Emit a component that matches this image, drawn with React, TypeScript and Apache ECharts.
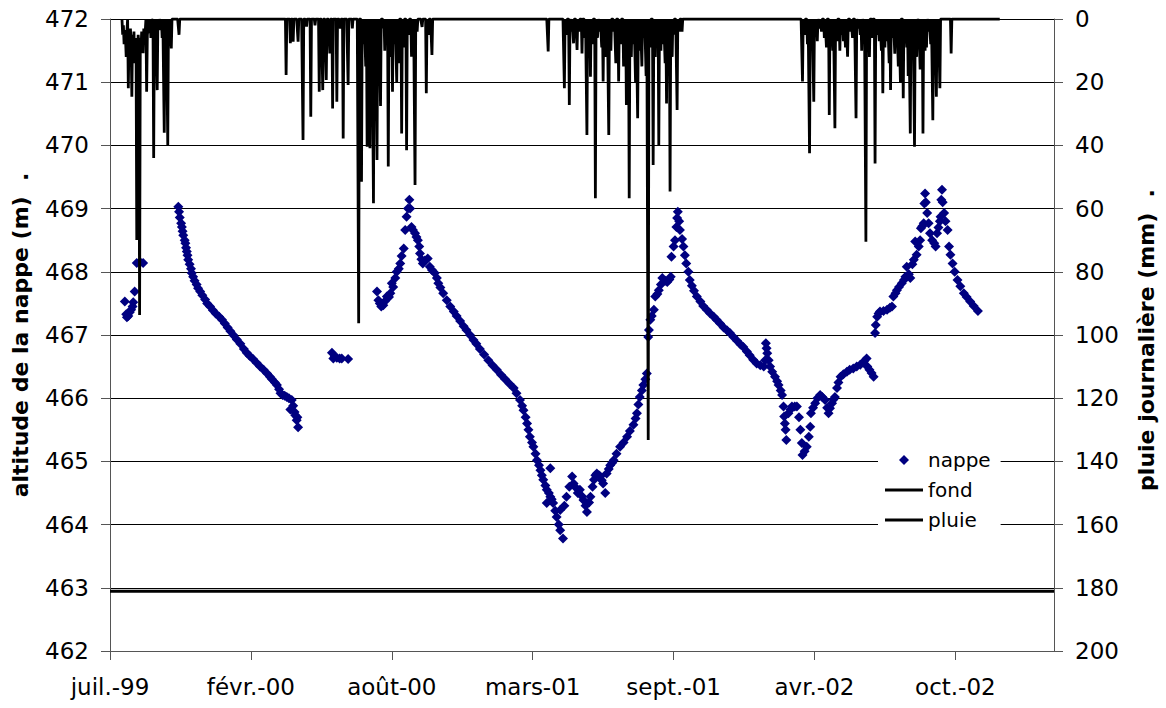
import React, { useEffect, useRef } from 'react';
import * as echarts from 'echarts';

// x values are days counted from 19 July 1999 (first axis tick)
const X_MAX = 1340;
const X_INTERVAL = 200;
const xTickLabels = ['juil.-99', 'févr.-00', 'août-00', 'mars-01', 'sept.-01', 'avr.-02', 'oct.-02'];
const xTickDays = [0, 200, 400, 600, 800, 1000, 1200];

const FOND_LEVEL = 462.945;

// nappe: [day, altitude (m)]
const nappe1999a: [number, number][] = [
  [21, 467.53], [23, 467.33], [24, 467.28], [26, 467.3], [28, 467.36], [30, 467.4], [32, 467.45],
  [33, 467.52], [35, 467.69], [38, 468.14], [43, 468.15], [47, 468.14],
];
const nappe1999b: [number, number][] = [
  [97, 469.03], [98, 468.95], [99, 468.86], [101, 468.77], [102, 468.71], [103, 468.64], [104, 468.58],
  [106, 468.5], [107, 468.45], [108, 468.38], [109, 468.32], [110, 468.26], [111, 468.19], [113, 468.12],
  [115, 468.05], [116, 467.98], [118, 467.92], [120, 467.86], [123, 467.8], [125, 467.74], [128, 467.69],
  [131, 467.63], [135, 467.56], [138, 467.5], [142, 467.45], [146, 467.39], [150, 467.34], [155, 467.29],
  [159, 467.24], [163, 467.18], [167, 467.12], [171, 467.06], [175, 467.0], [180, 466.93], [185, 466.86],
  [190, 466.78], [194, 466.72], [198, 466.67], [203, 466.62], [208, 466.56], [213, 466.5], [218, 466.45],
  [223, 466.39], [227, 466.34], [230, 466.3], [234, 466.25], [237, 466.21], [240, 466.14], [242, 466.08],
  [245, 466.05], [248, 466.04], [251, 466.02], [254, 466.0], [258, 465.97], [256, 465.82], [260, 465.88],
  [262, 465.78], [263, 465.73], [265, 465.65], [266, 465.7], [267, 465.54],
];
const nappe2000a: [number, number][] = [
  [315, 466.72], [317, 466.63], [319, 466.66], [322, 466.64], [326, 466.63], [329, 466.63], [338, 466.62],
];
const nappe2000b: [number, number][] = [
  [379, 467.69], [381, 467.55], [383, 467.5], [385, 467.45], [388, 467.47], [390, 467.53], [393, 467.61],
  [396, 467.6], [398, 467.66], [400, 467.82], [402, 467.76], [405, 467.9], [407, 468.0], [410, 468.05],
  [412, 468.13], [414, 468.25], [417, 468.37], [419, 468.66], [421, 468.87], [423, 469.0], [425, 469.14],
  [426, 469.0], [428, 468.71], [430, 468.66], [433, 468.61], [435, 468.55], [437, 468.5], [439, 468.4],
  [440, 468.29], [442, 468.2], [444, 468.13], [447, 468.18], [451, 468.21], [454, 468.08], [457, 468.03],
  [461, 467.98], [464, 467.9], [466, 467.82], [469, 467.75], [473, 467.66], [478, 467.55], [483, 467.45],
  [488, 467.37], [492, 467.3], [497, 467.22], [502, 467.14], [506, 467.08], [511, 467.0], [516, 466.92],
  [520, 466.86], [525, 466.78], [531, 466.69], [537, 466.6], [543, 466.52], [549, 466.45], [555, 466.37],
  [561, 466.3], [567, 466.23], [573, 466.16], [577, 466.08], [582, 465.97], [585, 465.88], [587, 465.81],
  [590, 465.7], [592, 465.6], [594, 465.5], [596, 465.39], [599, 465.3], [601, 465.23], [604, 465.12],
  [606, 465.02], [609, 464.94], [611, 464.86], [613, 464.78], [615, 464.71], [618, 464.62], [620, 464.55],
  [620, 464.34], [623, 464.5], [625, 464.44], [625, 464.89], [627, 464.4], [629, 464.34], [632, 464.22],
  [634, 464.12], [637, 464.0], [639, 463.91], [639, 464.23], [643, 463.78], [645, 464.3], [648, 464.44],
  [652, 464.6], [656, 464.76], [658, 464.65], [660, 464.6], [664, 464.5], [667, 464.55], [670, 464.45],
  [672, 464.39], [675, 464.3], [677, 464.2], [680, 464.35], [682, 464.44], [685, 464.6], [687, 464.71],
  [689, 464.78], [691, 464.81], [694, 464.78], [696, 464.76], [698, 464.7], [700, 464.65], [703, 464.5],
  [705, 464.81], [708, 464.88], [710, 464.94], [713, 464.98], [715, 465.02], [719, 465.12], [724, 465.23],
  [729, 465.3], [734, 465.39], [738, 465.48], [743, 465.58], [746, 465.68], [748, 465.76], [750, 465.9],
  [752, 466.02], [755, 466.12], [757, 466.21], [760, 466.3], [762, 466.39],
];
const nappe2001: [number, number][] = [
  [764, 466.97], [765, 467.08], [767, 467.24], [769, 467.3], [772, 467.4], [774, 467.61], [777, 467.65],
  [779, 467.71], [782, 467.8], [784, 467.9], [788, 467.86], [791, 467.84], [794, 467.88], [796, 467.92],
  [797, 468.24], [800, 468.4], [802, 468.5], [804, 468.71], [805, 468.85], [806, 468.95], [808, 468.8],
  [809, 468.66], [812, 468.52], [814, 468.4], [816, 468.26], [818, 468.13], [821, 468.0], [823, 467.87],
  [826, 467.78], [829, 467.7], [833, 467.61], [838, 467.53], [842, 467.46], [847, 467.4], [852, 467.34],
  [857, 467.29], [861, 467.24], [866, 467.18], [871, 467.12], [876, 467.07], [880, 467.03], [885, 466.97],
  [890, 466.91], [895, 466.85], [899, 466.81], [904, 466.74], [908, 466.68], [913, 466.61], [918, 466.55],
  [923, 466.52], [928, 466.5], [930, 466.6], [931, 466.87], [932, 466.79], [933, 466.71], [935, 466.6],
  [937, 466.5], [940, 466.42], [944, 466.34], [947, 466.27], [949, 466.21], [952, 466.12], [954, 466.05],
  [956, 465.87], [957, 465.71], [958, 465.6], [959, 465.5], [960, 465.34], [963, 465.76], [966, 465.82],
  [968, 465.87], [972, 465.87], [975, 465.87], [978, 465.7], [980, 465.5], [982, 465.29], [983, 465.1],
  [986, 465.16], [989, 465.23], [992, 465.39], [994, 465.55], [995, 465.76], [998, 465.85], [1001, 465.92],
  [1004, 466.0], [1008, 466.05], [1011, 466.02], [1015, 465.97], [1018, 465.85], [1020, 465.76],
  [1022, 465.84], [1025, 465.92], [1027, 465.98], [1029, 466.02], [1032, 466.16], [1034, 466.25],
  [1037, 466.34], [1041, 466.38], [1046, 466.42], [1050, 466.45], [1055, 466.47], [1060, 466.5],
  [1065, 466.53], [1070, 466.58], [1074, 466.63], [1075, 466.5], [1078, 466.45], [1081, 466.4],
  [1084, 466.34],
];
const nappe2002: [number, number][] = [
  [1086, 467.03], [1087, 467.16], [1089, 467.29], [1091, 467.34], [1093, 467.37], [1098, 467.38],
  [1103, 467.4], [1107, 467.43], [1110, 467.45], [1112, 467.61], [1115, 467.66], [1117, 467.71],
  [1120, 467.76], [1124, 467.82], [1127, 467.87], [1129, 467.92], [1131, 468.08], [1134, 467.96],
  [1136, 467.9], [1139, 468.12], [1141, 468.19], [1143, 468.48], [1145, 468.27], [1148, 468.4],
  [1150, 468.5], [1151, 468.69], [1153, 468.72], [1155, 468.77], [1156, 469.08], [1157, 469.24],
  [1158, 469.1], [1160, 468.93], [1162, 468.77], [1164, 468.61], [1167, 468.5], [1170, 468.45],
  [1172, 468.4], [1174, 468.61], [1176, 468.7], [1178, 468.8], [1179, 468.87], [1180, 469.14],
  [1181, 469.3], [1182, 469.1], [1184, 468.93], [1186, 468.8], [1189, 468.66], [1191, 468.4],
  [1193, 468.27], [1196, 468.13], [1199, 468.0], [1203, 467.87], [1207, 467.77], [1212, 467.66],
  [1216, 467.6], [1221, 467.53], [1226, 467.46], [1232, 467.38],
];

// pluie: daily record from day 17 to day 1263, rainy days as [day, mm]
const RAIN_FIRST_DAY = 17;
const RAIN_LAST_DAY = 1263;
const rain1999: [number, number][] = [
  [18, 5], [19, 2], [20, 8], [21, 3.5], [22, 6], [23, 12], [24, 4], [26, 21.9], [27, 6], [28, 10], [29, 3],
  [30, 8], [31, 24.6], [32, 5], [33, 9.8], [34, 4], [35, 14], [36, 6], [37, 9], [38, 69.9], [39, 12], [40, 5],
  [41, 8], [42, 93.7], [43, 6], [44, 9], [45, 4], [46, 7], [47, 10.8], [48, 3], [49, 6], [50, 4], [52, 23],
  [53, 5], [54, 3], [56, 4.5], [58, 6], [60, 2], [62, 44], [64, 5], [67, 22.5], [69, 3], [72, 3.5], [74, 6],
  [77, 36], [79, 4], [82, 39.9], [84, 3], [87, 9.3], [98, 5],
];
const rain2000: [number, number][] = [
  [250, 17.7], [256, 7.7], [260, 7.2], [267, 7.2], [274, 38.3], [279, 2.4], [285, 30.9], [291, 2], [297, 23],
  [302, 22.5], [307, 19.3], [312, 10.9], [316, 28.3], [322, 26.2], [327, 3], [331, 37.8], [338, 20.9],
  [344, 3], [353, 96.3], [357, 51.5], [360, 8], [363, 15], [365, 40.4], [367, 10], [369, 40.9], [371, 6],
  [374, 58.3], [376, 12], [379, 44.6], [381, 9], [384, 27.5], [388, 3], [390, 10], [393, 6], [395, 46.7],
  [397, 12], [399, 5], [401, 23], [404, 8], [407, 20], [410, 14], [414, 36.2], [417, 9], [421, 41.5],
  [424, 5], [428, 11.9], [430, 6], [433, 52.5], [436, 4], [443, 2.5], [449, 23.5], [452, 5], [457, 11.4],
];
const rain2001: [number, number][] = [
  [622, 10.3], [645, 21.9], [648, 5], [652, 27.2], [655, 4], [658, 7.7], [663, 9.8], [666, 4], [670, 10.9],
  [674, 6], [677, 36.7], [680, 5], [682, 18.3], [685, 8], [689, 56.7], [692, 6], [695, 4], [698, 9],
  [700, 19.8], [703, 12], [705, 7], [708, 36.7], [711, 10], [715, 4], [718, 14], [722, 19.8], [725, 8],
  [729, 15], [731, 6], [733, 27.2], [735, 9], [737, 56.7], [740, 12], [743, 8], [746, 20], [749, 31.4],
  [752, 10], [755, 15], [758, 6], [761, 18], [764, 133.2], [767, 9], [771, 46.2], [774, 12], [777, 7],
  [779, 39.9], [782, 10], [785, 8], [788, 14], [790, 26.7], [793, 6], [795, 54.6], [798, 12], [800, 5],
  [805, 28.8], [808, 4], [812, 4],
];
const rain2002: [number, number][] = [
  [983, 19.8], [986, 5], [990, 8], [993, 42.5], [996, 6], [999, 26.2], [1002, 5], [1004, 7], [1007, 3],
  [1010, 4], [1014, 6], [1017, 9], [1021, 30.4], [1023, 8], [1026, 10], [1029, 34.6], [1032, 7], [1036, 10],
  [1039, 5], [1041, 7], [1044, 9], [1047, 11.9], [1051, 4], [1054, 6], [1059, 31.4], [1062, 3], [1065, 5],
  [1067, 10], [1070, 4], [1073, 70.5], [1076, 8], [1078, 12], [1082, 6], [1086, 45.7], [1089, 5], [1092, 7],
  [1095, 10], [1097, 23.5], [1100, 9], [1103, 7], [1106, 14], [1108, 22.5], [1111, 6], [1114, 11],
  [1116, 8], [1119, 15], [1122, 20], [1126, 25.1], [1128, 5], [1131, 9], [1133, 18], [1136, 36.2],
  [1139, 8], [1142, 40.4], [1145, 12], [1147, 2], [1150, 16], [1152, 6], [1154, 36.2], [1157, 10],
  [1159, 9], [1162, 4], [1165, 8], [1168, 32], [1170, 6], [1173, 24.6], [1175, 10], [1178, 21.9],
  [1194, 10.9],
];

const FONT = 'DejaVu Sans';
const LINE_ICON = 'path://M0,0H38V3H0Z';
const DIAMOND_ICON = 'path://M5,0L10,5L5,10L0,5Z';

function buildRainSeries(): [number, number][] {
  const events = new Map<number, number>([...rain1999, ...rain2000, ...rain2001, ...rain2002]);
  const out: [number, number][] = [];
  for (let d = RAIN_FIRST_DAY; d <= RAIN_LAST_DAY; d++) out.push([d, events.get(d) ?? 0]);
  return out;
}

export default function App() {
  const ref = useRef<HTMLDivElement>(null);
  useEffect(() => {
    if (!ref.current) return;
    const chart = echarts.init(ref.current, null, { renderer: 'svg' });
    const axisColor = '#555';
    const labelStyle = { fontFamily: FONT, fontSize: 23, color: '#000' };
    chart.setOption({
      animation: false,
      backgroundColor: '#fff',
      grid: { left: 110, right: 112, top: 19, bottom: 57, containLabel: false },
      xAxis: {
        type: 'value',
        min: 0,
        max: X_MAX,
        interval: X_INTERVAL,
        axisLine: { show: true, onZero: false, lineStyle: { color: axisColor, width: 1 } },
        axisTick: { show: true, length: 9, lineStyle: { color: axisColor }, customValues: xTickDays },
        axisLabel: {
          ...labelStyle,
          margin: 24,
          customValues: xTickDays,
          formatter: (v: number) => xTickLabels[Math.round(v / X_INTERVAL)] ?? '',
        },
        splitLine: { show: false },
      },
      yAxis: [
        {
          type: 'value',
          min: 462,
          max: 472,
          interval: 1,
          position: 'left',
          axisLine: { show: true, lineStyle: { color: axisColor, width: 1 } },
          axisTick: { show: true, length: 9, lineStyle: { color: axisColor } },
          axisLabel: { ...labelStyle, margin: 21 },
          splitLine: { show: true, lineStyle: { color: '#000', width: 1 } },
        },
        {
          type: 'value',
          min: 0,
          max: 200,
          interval: 20,
          inverse: true,
          position: 'right',
          axisLine: { show: true, lineStyle: { color: axisColor, width: 1 } },
          axisTick: { show: true, length: 9, lineStyle: { color: axisColor } },
          axisLabel: { ...labelStyle, margin: 21 },
          splitLine: { show: false },
        },
      ],
      legend: {
        orient: 'vertical',
        left: 878,
        top: 444,
        backgroundColor: '#fff',
        padding: [6, 10, 6, 7],
        itemWidth: 38,
        itemHeight: 10,
        itemGap: 10,
        symbolKeepAspect: true,
        textStyle: { fontFamily: FONT, fontSize: 20, color: '#000', lineHeight: 20 },
        data: [
          { name: 'nappe', icon: DIAMOND_ICON, itemStyle: { color: '#000080' } },
          { name: 'fond', icon: LINE_ICON, itemStyle: { color: '#000' } },
          { name: 'pluie', icon: LINE_ICON, itemStyle: { color: '#000' } },
        ],
      },
      graphic: [
        {
          type: 'text',
          x: 20,
          y: 335,
          rotation: Math.PI / 2,
          style: {
            text: 'altitude de la nappe (m)  .',
            fontFamily: FONT,
            fontWeight: 'bold',
            fontSize: 22,
            fill: '#000',
            align: 'center',
            verticalAlign: 'middle',
          },
        },
        {
          type: 'text',
          x: 1146,
          y: 340,
          rotation: Math.PI / 2,
          style: {
            text: 'pluie journalière (mm)  .',
            fontFamily: FONT,
            fontWeight: 'bold',
            fontSize: 22,
            fill: '#000',
            align: 'center',
            verticalAlign: 'middle',
          },
        },
      ],
      series: [
        {
          name: 'nappe',
          type: 'scatter',
          yAxisIndex: 0,
          symbol: 'diamond',
          symbolSize: 10,
          itemStyle: { color: '#000080', opacity: 1 },
          data: [...nappe1999a, ...nappe1999b, ...nappe2000a, ...nappe2000b, ...nappe2001, ...nappe2002],
        },
        {
          name: 'fond',
          type: 'line',
          yAxisIndex: 0,
          symbol: 'none',
          lineStyle: { color: '#000', width: 3 },
          itemStyle: { color: '#000' },
          data: [[0, FOND_LEVEL], [X_MAX, FOND_LEVEL]],
        },
        {
          name: 'pluie',
          type: 'line',
          yAxisIndex: 1,
          symbol: 'none',
          showSymbol: false,
          lineStyle: { color: '#000', width: 2.8 },
          itemStyle: { color: '#000' },
          data: buildRainSeries(),
        },
      ],
    });
    return () => chart.dispose();
  }, []);
  return (
    <div
      ref={ref}
      style={{ position: 'fixed', left: 0, top: 0, width: 1166, height: 708, background: '#fff' }}
    />
  );
}
